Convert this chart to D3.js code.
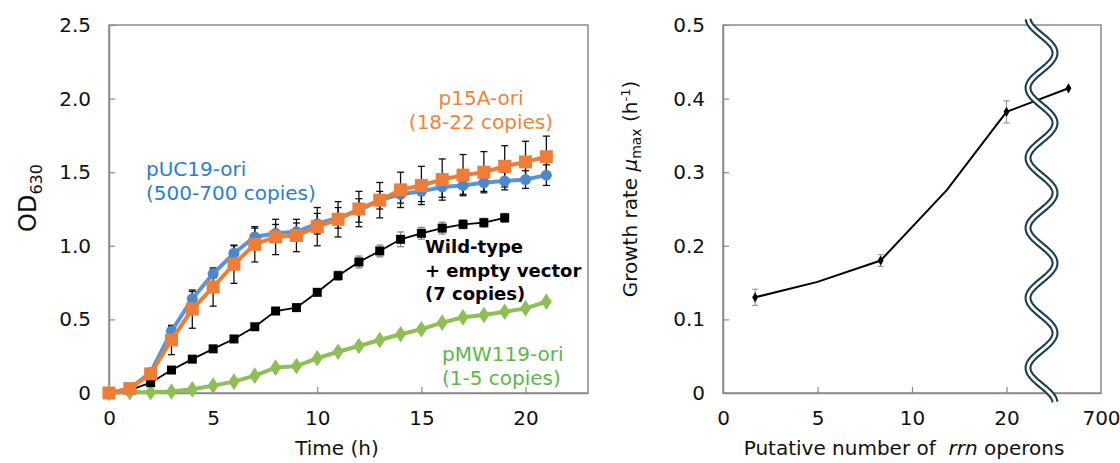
<!DOCTYPE html>
<html>
<head>
<meta charset="utf-8">
<script src="https://cdn.jsdelivr.net/npm/d3@7"></script>
<style>
  html, body { margin: 0; padding: 0; background: #fff; }
  svg { display: block; font-family: "DejaVu Sans", "Liberation Sans", Arial, sans-serif; }
</style>
</head>
<body>
<svg id="chart" width="1120" height="463"></svg>
<script>
// ---------- Left panel data: OD630 over time ----------
const timeHours = [0,1,2,3,4,5,6,7,8,9,10,11,12,13,14,15,16,17,18,19,20,21];
const pUC19 = [0,0.03,0.14,0.42,0.64,0.81,0.95,1.06,1.085,1.095,1.15,1.19,1.24,1.31,1.35,1.37,1.40,1.41,1.43,1.44,1.45,1.48];
const pUC19Err = [0,0.01,0.02,0.03,0.05,0.03,0.05,0.06,0.06,0.06,0.07,0.07,0.08,0.06,0.06,0.07,0.07,0.06,0.06,0.06,0.06,0.07];
const p15A = [0,0.03,0.13,0.36,0.57,0.72,0.875,1.01,1.06,1.07,1.13,1.18,1.25,1.31,1.38,1.41,1.45,1.48,1.50,1.54,1.57,1.605];
const p15AErr = [0,0.01,0.02,0.10,0.13,0.13,0.13,0.12,0.12,0.11,0.13,0.12,0.12,0.12,0.12,0.13,0.14,0.14,0.14,0.14,0.14,0.14];
const wildTime = [0,1,2,3,4,5,6,7,8,9,10,11,12,13,14,15,16,17,18,19];
const wildType = [0,0.02,0.07,0.156,0.23,0.30,0.367,0.45,0.557,0.58,0.684,0.797,0.89,0.965,1.044,1.085,1.12,1.146,1.157,1.19];
const wildErr = [0,0,0.01,0.01,0.01,0.01,0.01,0.01,0.01,0.01,0.02,0.03,0.04,0.04,0.05,0.04,0.04,0.03,0.03,0.03];
const pMW119 = [0,0.005,0.005,0.01,0.025,0.05,0.077,0.118,0.172,0.183,0.236,0.28,0.319,0.36,0.399,0.433,0.478,0.514,0.53,0.552,0.575,0.62];
const leftXTicks = [0,5,10,15,20];
const leftYTicks = [0,0.5,1.0,1.5,2.0,2.5];

// ---------- Right panel data: growth rate vs rrn operons ----------
const rrnLine = [1.7, 5, 8.34, 13.7, 20, 466];
const rateLine = [0.13, 0.151, 0.18, 0.276, 0.382, 0.414];
const rrnMarked = [1.7, 8.34, 20, 466];
const rateMarked = [0.13, 0.18, 0.382, 0.414];
const rateErr = [0.011, 0.008, 0.015, 0];
const rightXTicks = [0,5,10,20,700];
const rightYTicks = [0,0.1,0.2,0.3,0.4,0.5];
const axisBreakAt = 272;

const svg = d3.select("#chart");
const axisGray = "#8a8a8a";
const FONT = "DejaVu Sans, Liberation Sans, Arial, sans-serif";

// ================= LEFT PANEL =================
const xL = d3.scaleLinear().domain([0,23]).range([109,588]);
const yL = d3.scaleLinear().domain([0,2.5]).range([393,25]);

const gL = svg.append("g");
gL.append("rect").attr("x", xL(0)).attr("y", yL(2.5))
  .attr("width", xL(23)-xL(0)).attr("height", yL(0)-yL(2.5))
  .attr("fill","none").attr("stroke",axisGray).attr("stroke-width",1.5);

const axBL = gL.append("g").attr("transform",`translate(0,${yL(0)})`)
  .call(d3.axisBottom(xL).tickValues(leftXTicks).tickSizeInner(-6).tickSizeOuter(0).tickPadding(18).tickFormat(d3.format("d")));
const axLL = gL.append("g").attr("transform",`translate(${xL(0)},0)`)
  .call(d3.axisLeft(yL).tickValues(leftYTicks).tickSizeInner(-6).tickSizeOuter(0).tickPadding(18)
    .tickFormat(d => d === 0 ? "0" : d3.format(".1f")(d)));
[axBL, axLL].forEach(a => {
  a.select(".domain").attr("stroke",axisGray).attr("stroke-width",1.5);
  a.selectAll(".tick line").attr("stroke",axisGray).attr("stroke-width",1.2);
  a.selectAll(".tick text").attr("fill","#111").style("font-size","20px").style("font-family",FONT);
});

function errBars(g, xs, ys, es, color, cap) {
  xs.forEach((t,i) => {
    if (!es[i]) return;
    const x = xL(t), y1 = yL(ys[i]-es[i]), y2 = yL(ys[i]+es[i]);
    g.append("line").attr("x1",x).attr("x2",x).attr("y1",y1).attr("y2",y2).attr("stroke",color).attr("stroke-width",1.3);
    g.append("line").attr("x1",x-cap).attr("x2",x+cap).attr("y1",y1).attr("y2",y1).attr("stroke",color).attr("stroke-width",1.3);
    g.append("line").attr("x1",x-cap).attr("x2",x+cap).attr("y1",y2).attr("y2",y2).attr("stroke",color).attr("stroke-width",1.3);
  });
}
const lineL = (xs, ys) => d3.line().x((d,i)=>xL(xs[i])).y(d=>yL(d))(ys);

const gErr = gL.append("g");
errBars(gErr, timeHours, pUC19, pUC19Err, "#111", 3.5);
errBars(gErr, timeHours, p15A, p15AErr, "#111", 3.5);
errBars(gErr, wildTime, wildType, wildErr, "#888", 3.5);

// green pMW119
gL.append("path").attr("d", lineL(timeHours, pMW119)).attr("fill","none").attr("stroke","#8dbf55").attr("stroke-width",4);
gL.append("g").selectAll("path").data(pMW119).join("path")
  .attr("d", d3.symbol().type(d3.symbolDiamond).size(80))
  .attr("transform",(d,i)=>`translate(${xL(timeHours[i])},${yL(d)}) scale(1.15,1)`).attr("fill","#8dbf55");

// black wild type
gL.append("path").attr("d", lineL(wildTime, wildType)).attr("fill","none").attr("stroke","#000").attr("stroke-width",1.8);
gL.append("g").selectAll("rect").data(wildType).join("rect")
  .attr("x",(d,i)=>xL(wildTime[i])-4.5).attr("y",d=>yL(d)-4.5).attr("width",9).attr("height",9).attr("fill","#000");

// blue pUC19
gL.append("path").attr("d", lineL(timeHours, pUC19)).attr("fill","none").attr("stroke","#5a94d6").attr("stroke-width",4);
gL.append("g").selectAll("circle").data(pUC19).join("circle")
  .attr("cx",(d,i)=>xL(timeHours[i])).attr("cy",d=>yL(d)).attr("r",5.5).attr("fill","#4e88cc");

// orange p15A
gL.append("path").attr("d", lineL(timeHours, p15A)).attr("fill","none").attr("stroke","#ef7d37").attr("stroke-width",4);
gL.append("g").selectAll("rect").data(p15A).join("rect")
  .attr("x",(d,i)=>xL(timeHours[i])-6.5).attr("y",d=>yL(d)-6.5).attr("width",13).attr("height",13).attr("fill","#ef7d37");

function label(lines, x, y, color, anchor, weight, size, lh) {
  const t = svg.append("text").attr("x",x).attr("y",y).attr("fill",color).attr("text-anchor",anchor)
    .style("font-size",size+"px").style("font-weight",weight).style("font-family",FONT);
  lines.forEach((s,i)=> t.append("tspan").attr("x",x).attr("dy", i===0?0:lh).text(s));
}
label(["pUC19-ori","(500-700 copies)"], 146, 176, "#2b7fd0", "start", "normal", 20, 24);
label(["p15A-ori","(18-22 copies)"], 481, 105, "#f0843a", "middle", "normal", 20, 24);
label(["Wild-type","+ empty vector","(7 copies)"], 425, 253, "#000", "start", "bold", 18, 23.5);
label(["pMW119-ori","(1-5 copies)"], 442, 361, "#5cb947", "start", "normal", 20, 24);

// axis titles
svg.append("text").attr("x",337).attr("y",455).attr("text-anchor","middle").style("font-size","20px").attr("fill","#111").text("Time (h)");
const od = svg.append("text").attr("transform","translate(36,198) rotate(-90)").attr("text-anchor","middle")
  .style("font-size","24px").attr("fill","#111");
od.append("tspan").text("OD");
od.append("tspan").attr("dy",6).style("font-size","16px").text("630");

// ================= RIGHT PANEL =================
const xR = d3.scaleLinear().domain([0,5,10,20,700]).range([723,817.5,912,1006.5,1101]);
const yR = d3.scaleLinear().domain([0,0.5]).range([393,25]);
const gR = svg.append("g");
gR.append("rect").attr("x", xR(0)).attr("y", yR(0.5))
  .attr("width", xR(700)-xR(0)).attr("height", yR(0)-yR(0.5))
  .attr("fill","none").attr("stroke",axisGray).attr("stroke-width",1.5);
const axBR = gR.append("g").attr("transform",`translate(0,${yR(0)})`)
  .call(d3.axisBottom(xR).tickValues(rightXTicks).tickSizeInner(-6).tickSizeOuter(0).tickPadding(18).tickFormat(d3.format("d")));
const axLR = gR.append("g").attr("transform",`translate(${xR(0)},0)`)
  .call(d3.axisLeft(yR).tickValues(rightYTicks).tickSizeInner(-6).tickSizeOuter(0).tickPadding(18)
    .tickFormat(d => d === 0 ? "0" : d3.format(".1f")(d)));
[axBR, axLR].forEach(a => {
  a.select(".domain").attr("stroke",axisGray).attr("stroke-width",1.5);
  a.selectAll(".tick line").attr("stroke",axisGray).attr("stroke-width",1.2);
  a.selectAll(".tick text").attr("fill","#111").style("font-size","20px").style("font-family",FONT);
});
axBR.selectAll(".tick").filter(d => d === 0 || d === 700).select("line").remove();

rrnMarked.forEach((r,i) => {
  if (!rateErr[i]) return;
  const x = xR(r), y1 = yR(rateMarked[i]-rateErr[i]), y2 = yR(rateMarked[i]+rateErr[i]);
  gR.append("line").attr("x1",x).attr("x2",x).attr("y1",y1).attr("y2",y2).attr("stroke","#999").attr("stroke-width",1.2);
  [y1,y2].forEach(y => gR.append("line").attr("x1",x-3).attr("x2",x+3).attr("y1",y).attr("y2",y).attr("stroke","#999").attr("stroke-width",1.2));
});
gR.append("path").attr("d", d3.line().x((d,i)=>xR(rrnLine[i])).y(d=>yR(d))(rateLine))
  .attr("fill","none").attr("stroke","#000").attr("stroke-width",2);
gR.append("g").selectAll("path").data(rateMarked).join("path")
  .attr("d", d3.symbol().type(d3.symbolDiamond).size(30))
  .attr("transform",(d,i)=>`translate(${xR(rrnMarked[i])},${yR(d)})`).attr("fill","#000");

// axis break wave
const cx = xR(axisBreakAt), amp = 13.5, period = 70, y0 = 35.5;
const wavePts = d3.range(19, 403, 1).map(y => [cx + amp*Math.sin(2*Math.PI*(y-y0)/period), y]);
const waveGen = d3.line().curve(d3.curveBasis);
gR.append("path").attr("d", waveGen(wavePts)).attr("fill","none").attr("stroke","#1c3f52").attr("stroke-width",7);
gR.append("path").attr("d", waveGen(wavePts)).attr("fill","none").attr("stroke","#fff").attr("stroke-width",2.8);

// titles
const xt = svg.append("text").attr("x",904).attr("y",455).attr("text-anchor","middle").style("font-size","20px").attr("fill","#111");
xt.append("tspan").text("Putative number of \u00a0");
xt.append("tspan").style("font-style","italic").text("rrn");
xt.append("tspan").text(" operons");

const yt = svg.append("text").attr("transform","translate(637,189) rotate(-90)").attr("text-anchor","middle")
  .style("font-size","20px").attr("fill","#111");
yt.append("tspan").text("Growth rate ");
yt.append("tspan").style("font-style","italic").text("\u03bc");
yt.append("tspan").attr("dy",4).style("font-size","14px").text("max");
yt.append("tspan").attr("dy",-4).text(" (h");
yt.append("tspan").attr("dy",-7).style("font-size","13px").text("-1");
yt.append("tspan").attr("dy",7).text(")");
</script>
</body>
</html>
